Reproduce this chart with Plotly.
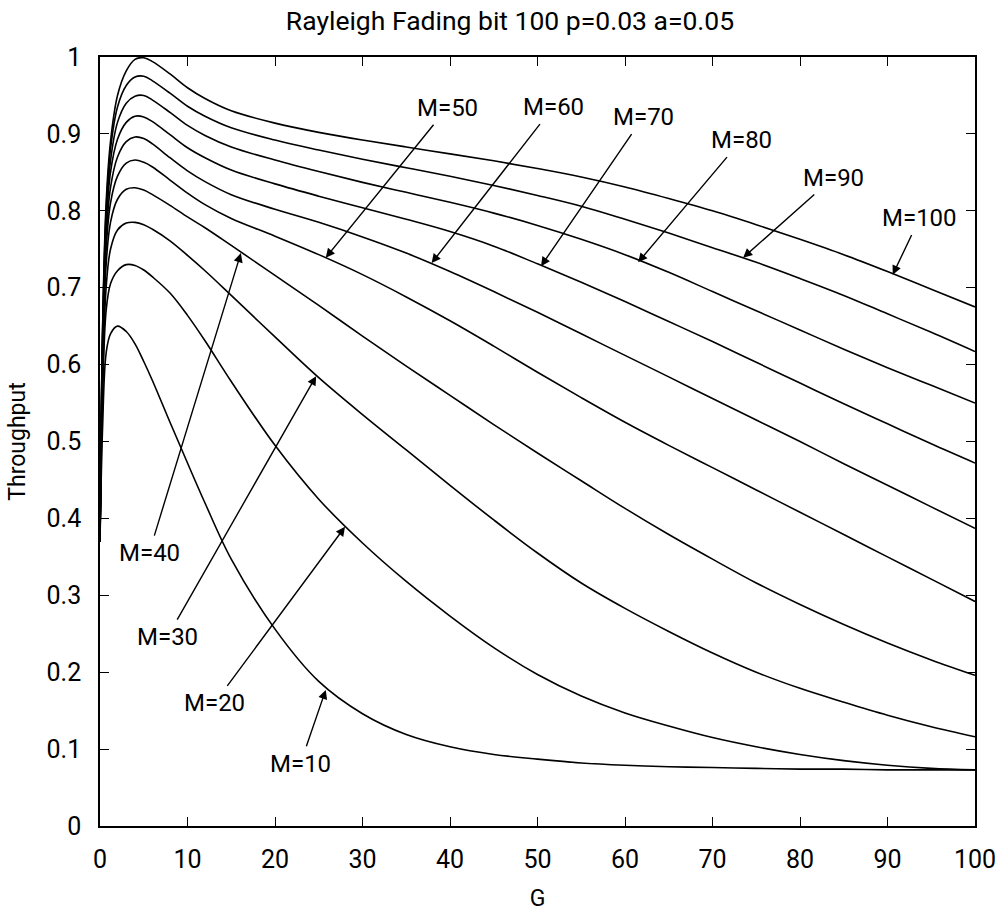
import plotly.graph_objects as go

G = [0, 0.3, 0.7, 1.2, 2, 3, 4, 5, 6, 8, 10, 12, 15, 20, 25, 30, 35, 40, 45, 50,
     55, 60, 65, 70, 75, 80, 85, 90, 95, 100]

thr_m10 = [0.37, 0.52, 0.615, 0.64, 0.65, 0.643, 0.627, 0.604, 0.579, 0.525, 0.472, 0.42, 0.347, 0.256,
           0.188, 0.146, 0.119, 0.103, 0.093, 0.087, 0.082, 0.079, 0.077, 0.076, 0.075, 0.074, 0.074,
           0.073, 0.073, 0.073]
thr_m20 = [0.37, 0.56, 0.67, 0.705, 0.722, 0.73, 0.729, 0.723, 0.714, 0.693, 0.664, 0.631, 0.578, 0.495,
           0.425, 0.368, 0.318, 0.273, 0.232, 0.197, 0.169, 0.147, 0.13, 0.115, 0.103, 0.093, 0.085,
           0.079, 0.075, 0.073]
thr_m30 = [0.37, 0.58, 0.7, 0.75, 0.775, 0.784, 0.785, 0.782, 0.776, 0.761, 0.742, 0.722, 0.69, 0.636,
           0.583, 0.535, 0.489, 0.443, 0.398, 0.355, 0.316, 0.283, 0.253, 0.225, 0.2, 0.179, 0.161,
           0.144, 0.129, 0.116]
thr_m40 = [0.37, 0.6, 0.73, 0.785, 0.815, 0.828, 0.83, 0.827, 0.821, 0.807, 0.792, 0.778, 0.755, 0.716,
           0.677, 0.637, 0.598, 0.56, 0.522, 0.485, 0.449, 0.413, 0.379, 0.347, 0.316, 0.288, 0.262,
           0.238, 0.216, 0.196]
thr_m50 = [0.37, 0.61, 0.75, 0.81, 0.845, 0.862, 0.866, 0.863, 0.857, 0.84, 0.823, 0.808, 0.79, 0.767,
           0.743, 0.717, 0.688, 0.657, 0.624, 0.59, 0.557, 0.525, 0.495, 0.466, 0.437, 0.408, 0.379,
           0.35, 0.321, 0.292]
thr_m60 = [0.37, 0.62, 0.765, 0.83, 0.87, 0.89, 0.896, 0.894, 0.887, 0.869, 0.852, 0.838, 0.821, 0.802,
           0.785, 0.766, 0.745, 0.721, 0.695, 0.668, 0.64, 0.612, 0.584, 0.556, 0.528, 0.5, 0.471,
           0.443, 0.415, 0.387]
thr_m70 = [0.37, 0.63, 0.78, 0.85, 0.893, 0.915, 0.923, 0.922, 0.916, 0.899, 0.882, 0.869, 0.853, 0.835,
           0.819, 0.804, 0.789, 0.773, 0.754, 0.731, 0.707, 0.682, 0.656, 0.63, 0.603, 0.576, 0.549,
           0.523, 0.497, 0.472]
thr_m80 = [0.37, 0.64, 0.79, 0.865, 0.915, 0.94, 0.949, 0.95, 0.944, 0.928, 0.911, 0.898, 0.883, 0.866,
           0.851, 0.837, 0.824, 0.811, 0.797, 0.781, 0.763, 0.743, 0.72, 0.695, 0.67, 0.645, 0.62,
           0.596, 0.573, 0.55]
thr_m90 = [0.37, 0.645, 0.8, 0.88, 0.935, 0.963, 0.974, 0.975, 0.969, 0.953, 0.936, 0.923, 0.908, 0.892,
           0.879, 0.867, 0.856, 0.845, 0.833, 0.82, 0.806, 0.789, 0.771, 0.752, 0.733, 0.712, 0.69,
           0.666, 0.642, 0.617]
thr_m100 = [0.37, 0.65, 0.81, 0.89, 0.95, 0.982, 0.997, 0.999, 0.994, 0.978, 0.96, 0.946, 0.93, 0.914,
            0.902, 0.892, 0.883, 0.874, 0.865, 0.855, 0.844, 0.831, 0.816, 0.8, 0.782, 0.763, 0.743,
            0.721, 0.698, 0.675]

series_names = ["M=10", "M=20", "M=30", "M=40", "M=50", "M=60", "M=70", "M=80", "M=90", "M=100"]
series_vals = [thr_m10, thr_m20, thr_m30, thr_m40, thr_m50, thr_m60, thr_m70, thr_m80, thr_m90, thr_m100]

# label text position (G, throughput) and arrow tip on the curve
label_pos = [(22.9, 0.081), (13.1, 0.16), (7.7, 0.246), (5.6, 0.355), (39.7, 0.934),
             (51.8, 0.935), (62.1, 0.922), (73.3, 0.892), (83.8, 0.843), (93.7, 0.791)]
arrow_tip = [(25.8, 0.177), (28.0, 0.389), (24.7, 0.585), (16.1, 0.745), (25.8, 0.739),
             (37.9, 0.732), (50.4, 0.728), (61.5, 0.733), (73.5, 0.739), (90.6, 0.717)]

FONT = "Roboto, DejaVu Sans, sans-serif"

fig = go.Figure()
for name, vals in zip(series_names, series_vals):
    fig.add_trace(go.Scatter(x=G, y=vals, mode="lines", name=name,
                             line=dict(color="black", width=1.6, shape="spline", smoothing=1.0),
                             showlegend=False, hoverinfo="skip"))

for name, (lx, ly), (tx, ty) in zip(series_names, label_pos, arrow_tip):
    fig.add_annotation(x=tx, y=ty, ax=lx, ay=ly, xref="x", yref="y", axref="x", ayref="y",
                       text=name, showarrow=True, arrowhead=2, arrowsize=1.3, arrowwidth=1.4,
                       arrowcolor="black", font=dict(family=FONT, size=24, color="black"),
                       standoff=0, startstandoff=2)

fig.update_layout(
    width=1002, height=912,
    margin=dict(l=100, r=27, t=57, b=86),
    paper_bgcolor="white", plot_bgcolor="white",
    font=dict(family=FONT, size=24, color="black"),
    title=dict(text="Rayleigh Fading bit 100 p=0.03 a=0.05", x=510 / 1002, xanchor="center",
               xref="container", y=1 - 21 / 912, yanchor="middle", yref="container",
               font=dict(family=FONT, size=26.5, color="black")),
    xaxis=dict(range=[0, 100], tickvals=list(range(0, 101, 10)), showgrid=False, zeroline=False,
               showline=True, linecolor="black", linewidth=1.5, mirror="ticks",
               ticks="inside", ticklen=9, tickcolor="black", tickwidth=1.2, automargin=False,
               title=dict(text="G", standoff=18, font=dict(family=FONT, size=23)),
               tickfont=dict(family=FONT, size=25), ticklabelstandoff=10),
    yaxis=dict(range=[0, 1], tickvals=[i / 10 for i in range(11)], showgrid=False, zeroline=False,
               showline=True, linecolor="black", linewidth=1.5, mirror="ticks",
               ticks="inside", ticklen=9, tickcolor="black", tickwidth=1.2, automargin=False,
               title=dict(text="Throughput", standoff=14, font=dict(family=FONT, size=23)),
               tickfont=dict(family=FONT, size=25), ticklabelstandoff=12),
)

fig.write_html("out.html")
